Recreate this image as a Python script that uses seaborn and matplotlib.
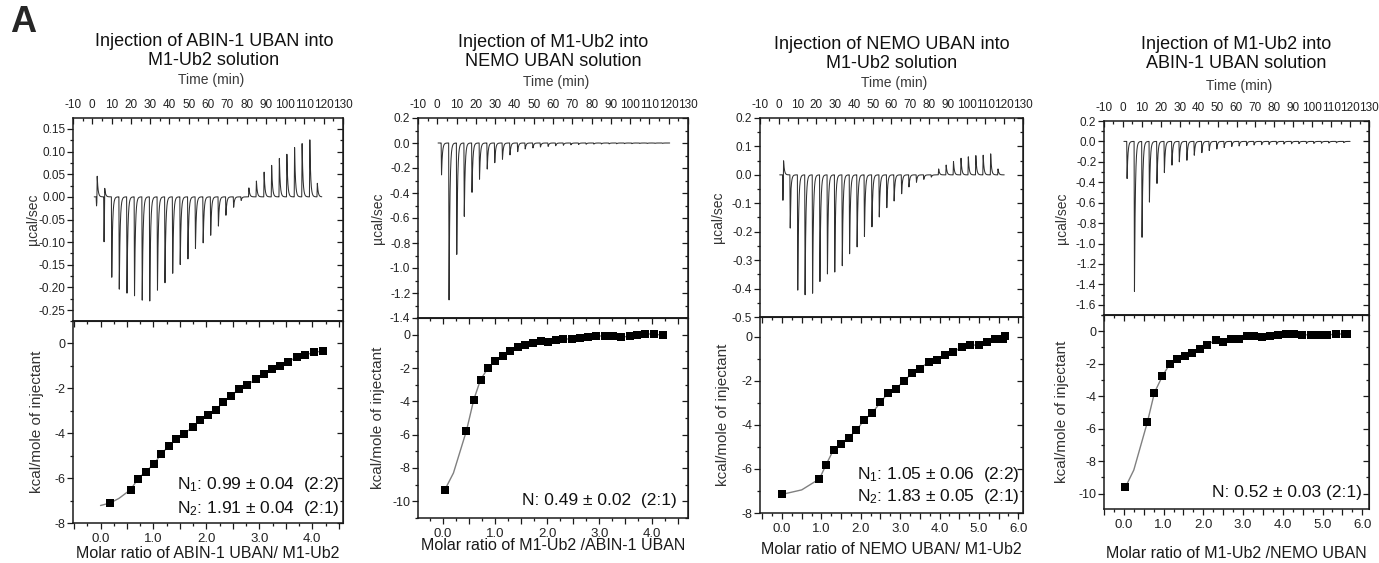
import numpy as np
import pandas as pd
import seaborn as sns
import matplotlib
matplotlib.use('Agg')
import matplotlib.pyplot as plt
from matplotlib.ticker import MultipleLocator, FuncFormatter

sns.set_style('ticks')
plt.rcParams['font.family'] = ['Liberation Sans', 'DejaVu Sans']
plt.rcParams['mathtext.fontset'] = 'custom'
plt.rcParams['mathtext.rm'] = 'Liberation Sans'
plt.rcParams['mathtext.it'] = 'Liberation Sans:italic'
plt.rcParams['axes.unicode_minus'] = False

# injection times (min), shared by all four runs
inj_time = [2.0, 5.9, 9.9, 13.8, 17.8, 21.7, 25.7, 29.6, 33.6, 37.5, 41.5, 45.4, 49.4, 53.3, 57.3,
            61.2, 65.2, 69.1, 73.1, 77.0, 81.0, 84.9, 88.9, 92.8, 96.8, 100.7, 104.7, 108.6, 112.6, 116.5]

# raw heat peaks (ucal/sec)
p1_peak = [-0.02, -0.10, -0.18, -0.204, -0.214, -0.221, -0.228, -0.232, -0.209, -0.19, -0.17, -0.151,
           -0.137, -0.115, -0.103, -0.085, -0.065, -0.041, -0.023, -0.008, 0.02, 0.035, 0.055, 0.07,
           0.085, 0.095, 0.11, 0.118, 0.127, 0.03]
p1_over = [0.055, 0.065, 0.005]
p2_peak = [-0.256, -1.27, -0.896, -0.59, -0.40, -0.29, -0.21, -0.16, -0.13, -0.096, -0.07, -0.048,
           -0.04, -0.032, -0.027, -0.022, -0.018, -0.015, -0.012, -0.01, -0.009, -0.008, -0.007,
           -0.006, -0.005, -0.005, -0.004, -0.004, -0.003, -0.003]
p2_over = []
p3_peak = [-0.09, -0.19, -0.406, -0.426, -0.42, -0.377, -0.353, -0.342, -0.322, -0.281, -0.254,
           -0.219, -0.184, -0.149, -0.117, -0.092, -0.067, -0.043, -0.026, -0.016, -0.008, 0.021,
           0.035, 0.047, 0.059, 0.064, 0.068, 0.07, 0.074, 0.021]
p3_over = [0.091, 0.028]
p4_peak = [-0.366, -1.49, -0.94, -0.6, -0.415, -0.307, -0.235, -0.2, -0.186, -0.137, -0.11, -0.09,
           -0.075, -0.06, -0.05, -0.045, -0.04, -0.035, -0.032, -0.03, -0.028, -0.026, -0.024,
           -0.022, -0.02, -0.02, -0.018, -0.016, -0.014, -0.012]
p4_over = []

# integrated heats (kcal/mole of injectant) vs molar ratio
r1 = [0.18, 0.57, 0.71, 0.85, 1.01, 1.15, 1.29, 1.43, 1.58, 1.74, 1.87, 2.03, 2.18, 2.31, 2.46,
      2.62, 2.77, 2.93, 3.09, 3.24, 3.39, 3.54, 3.71, 3.87, 4.03, 4.21]
h1 = [-7.11, -6.51, -6.02, -5.72, -5.37, -4.91, -4.58, -4.25, -4.03, -3.72, -3.42, -3.2, -2.97,
      -2.62, -2.35, -2.02, -1.87, -1.58, -1.38, -1.16, -1.01, -0.83, -0.59, -0.52, -0.39, -0.34]
r2 = [0.03, 0.45, 0.59, 0.72, 0.86, 1.0, 1.15, 1.29, 1.44, 1.58, 1.73, 1.88, 2.02, 2.17, 2.31, 2.47,
      2.63, 2.79, 2.94, 3.1, 3.26, 3.42, 3.58, 3.72, 3.88, 4.04, 4.22]
h2 = [-9.34, -5.76, -3.9, -2.7, -2.02, -1.56, -1.26, -1.0, -0.74, -0.6, -0.5, -0.36, -0.44, -0.3,
      -0.26, -0.26, -0.22, -0.16, -0.1, -0.06, -0.06, -0.14, -0.1, -0.04, 0.04, 0.04, -0.04]
r3 = [0.01, 0.95, 1.12, 1.31, 1.5, 1.69, 1.89, 2.08, 2.29, 2.5, 2.69, 2.89, 3.09, 3.31, 3.5, 3.72,
      3.93, 4.14, 4.35, 4.57, 4.78, 4.99, 5.2, 5.41, 5.62, 5.67]
h3 = [-7.15, -6.45, -5.8, -5.12, -4.85, -4.58, -4.24, -3.79, -3.45, -2.98, -2.55, -2.35, -2.02,
      -1.64, -1.44, -1.15, -1.06, -0.83, -0.7, -0.45, -0.39, -0.36, -0.24, -0.12, -0.08, 0.03]
r4 = [0.04, 0.59, 0.77, 0.97, 1.15, 1.34, 1.53, 1.72, 1.91, 2.1, 2.31, 2.5, 2.69, 2.9, 3.09, 3.27,
      3.48, 3.68, 3.88, 4.09, 4.28, 4.49, 4.7, 4.91, 5.12, 5.33, 5.56, 5.61]
h4 = [-9.6, -5.62, -3.78, -2.76, -2.04, -1.68, -1.53, -1.33, -1.12, -0.82, -0.55, -0.65, -0.45,
      -0.45, -0.31, -0.31, -0.35, -0.27, -0.22, -0.18, -0.2, -0.22, -0.22, -0.22, -0.25, -0.16,
      -0.18, -0.16]

# extra points where the fitted curve runs beyond/between the squares
fit1_extra = ([0.0, 0.35], [-7.22, -6.9])
fit2_extra = ([0.2], [-8.3])
fit3_extra = ([0.5], [-6.95])
fit4_extra = ([0.25], [-8.55])

titles = ['Injection of ABIN-1 UBAN into\nM1-Ub2 solution',
          'Injection of M1-Ub2 into\nNEMO UBAN solution',
          'Injection of NEMO UBAN into\nM1-Ub2 solution',
          'Injection of M1-Ub2 into\nABIN-1 UBAN solution']
xlabels = ['Molar ratio of ABIN-1 UBAN/ M1-Ub2',
           'Molar ratio of M1-Ub2 /ABIN-1 UBAN',
           'Molar ratio of NEMO UBAN/ M1-Ub2',
           'Molar ratio of M1-Ub2 /NEMO UBAN']
notes = [['N$_1$: 0.99 ± 0.04  (2:2)', 'N$_2$: 1.91 ± 0.04  (2:1)'],
         ['N: 0.49 ± 0.02  (2:1)'],
         ['N$_1$: 1.05 ± 0.06  (2:2)', 'N$_2$: 1.83 ± 0.05  (2:1)'],
         ['N: 0.52 ± 0.03 (2:1)']]

W, H = 1379, 563
fig = plt.figure(figsize=(W / 100, H / 100), dpi=100)


def box(l, r, t, b):
    return [l / W, 1 - b / H, (r - l) / W, (b - t) / H]


def pulse(dt):
    # sharp injection response with quick return to baseline
    out = np.where(dt < 0, 0.0, np.exp(-np.clip(dt - 0.2, 0, None) / 0.45))
    return np.where((dt >= 0) & (dt < 0.2), dt / 0.2, out)


def trace(peaks, over, t0, t1):
    t = np.linspace(t0, t1, 12000)
    q = np.zeros_like(t)
    ov = list(over) + [0.0] * (len(peaks) - len(over))
    for ti, p, o in zip(inj_time, peaks, ov):
        q += p * pulse(t - ti)
        q += o * pulse(t - ti - 0.35)
    return pd.DataFrame({'t': t, 'q': q})


def frame(ax):
    for s in ax.spines.values():
        s.set_linewidth(1.1)
        s.set_color('#1a1a1a')
        s.set_visible(True)
    ax.tick_params(which='both', color='#1a1a1a', width=0.9, labelcolor='#222222')
    ax.tick_params(which='major', length=4)
    ax.tick_params(which='minor', length=2.3)


panels = [
    dict(lr=(73, 343), tmb=(118, 321, 523), top_ylim=(-0.274, 0.174), top_step=(0.05, 0.025),
         top_fmt='%.2f', peaks=p1_peak, over=p1_over, span=(1.0, 119.0),
         xlim=(-0.52, 4.58), ylim=(-8, 1.0), r=r1, h=h1, fit=fit1_extra,
         ylab_x=(-0.148, -0.133), xlab_y=553, note_y=[485, 508], note_x=340, time_y=80, title_y=51),
    dict(lr=(418, 688), tmb=(118, 318, 518), top_ylim=(-1.4, 0.2), top_step=(0.2, 0.1),
         top_fmt='%.1f', peaks=p2_peak, over=p2_over, span=(0.4, 120.5),
         xlim=(-0.48, 4.7), ylim=(-11, 1.0), r=r2, h=h2, fit=fit2_extra,
         ylab_x=(-0.148, -0.148), xlab_y=546, note_y=[500], note_x=677, time_y=82, title_y=52),
    dict(lr=(760, 1023), tmb=(118, 317, 513), top_ylim=(-0.5, 0.2), top_step=(0.1, 0.05),
         top_fmt='%.1f', peaks=p3_peak, over=p3_over, span=(0.5, 120.0),
         xlim=(-0.56, 6.12), ylim=(-8, 0.9), r=r3, h=h3, fit=fit3_extra,
         ylab_x=(-0.16, -0.14), xlab_y=550, note_y=[474, 497], note_x=1020, time_y=83, title_y=54),
    dict(lr=(1104, 1369), tmb=(121, 315, 509), top_ylim=(-1.7, 0.2), top_step=(0.2, 0.1),
         top_fmt='%.1f', peaks=p4_peak, over=p4_over, span=(0.5, 120.0),
         xlim=(-0.5, 6.17), ylim=(-10.95, 1.0), r=r4, h=h4, fit=fit4_extra,
         ylab_x=(-0.158, -0.158), xlab_y=553, note_y=[493], note_x=1362, time_y=86, title_y=54),
]

for i, p in enumerate(panels):
    l, r = p['lr']
    t, m, b = p['tmb']

    # raw thermogram
    ax1 = fig.add_axes(box(l, r, t, m))
    df = trace(p['peaks'], p['over'], *p['span'])
    sns.lineplot(data=df, x='t', y='q', ax=ax1, estimator=None, sort=False,
                 color='#303030', lw=0.75)
    ax1.set_xlim(-10, 130)
    ax1.set_ylim(*p['top_ylim'])
    frame(ax1)
    ax1.xaxis.set_major_locator(MultipleLocator(10))
    ax1.xaxis.set_minor_locator(MultipleLocator(5))
    ax1.xaxis.tick_top()
    ax1.tick_params(axis='x', which='both', direction='in', top=True, bottom=False,
                    labeltop=True, labelbottom=False, labelsize=8.5, pad=5)
    ax1.yaxis.set_major_locator(MultipleLocator(p['top_step'][0]))
    ax1.yaxis.set_minor_locator(MultipleLocator(p['top_step'][1]))
    ax1.yaxis.set_major_formatter(FuncFormatter(lambda v, pos, f=p['top_fmt']: f % v))
    ax1.tick_params(axis='y', which='both', direction='out', left=True, right=False, labelsize=8.5, pad=1.5)
    sec = ax1.secondary_yaxis('right')
    sec.yaxis.set_major_locator(MultipleLocator(p['top_step'][0]))
    sec.yaxis.set_minor_locator(MultipleLocator(p['top_step'][1]))
    sec.tick_params(which='both', direction='in', labelright=False, color='#1a1a1a', width=0.9)
    sec.tick_params(which='major', length=4)
    sec.tick_params(which='minor', length=2.3)
    ax1.set_xlabel('')
    ax1.set_ylabel('µcal/sec', fontsize=10, color='#333333')
    ax1.yaxis.set_label_coords(p['ylab_x'][0], 0.5)
    ax1.yaxis.label.set_va('center')

    # integrated heats
    ax2 = fig.add_axes(box(l, r, m, b))
    fx = sorted(list(p['r']) + p['fit'][0])
    fy = [y for _, y in sorted(zip(list(p['r']) + p['fit'][0], list(p['h']) + p['fit'][1]))]
    sns.lineplot(x=fx, y=fy, ax=ax2, estimator=None, sort=False, color='#808080', lw=1.0, zorder=1)
    sns.scatterplot(x=p['r'], y=p['h'], ax=ax2, marker='s', s=32, color='black',
                    edgecolor='black', linewidth=0, zorder=3)
    ax2.set_xlim(*p['xlim'])
    ax2.set_ylim(*p['ylim'])
    frame(ax2)
    ax2.xaxis.set_major_locator(MultipleLocator(0.5))
    ax2.xaxis.set_minor_locator(MultipleLocator(0.25))
    ax2.xaxis.set_major_formatter(FuncFormatter(lambda v, pos: '%.1f' % v if abs(v - round(v)) < 1e-6 else ''))
    ax2.yaxis.set_major_locator(MultipleLocator(2))
    ax2.yaxis.set_minor_locator(MultipleLocator(1))
    ax2.yaxis.set_major_formatter(FuncFormatter(lambda v, pos: '%d' % round(v)))
    ax2.tick_params(axis='x', which='both', direction='out', bottom=True, top=False, labelsize=9.5, pad=3)
    ax2.tick_params(axis='y', which='both', direction='out', left=True, right=False, labelsize=9, pad=1.5)
    sx = ax2.secondary_xaxis('top')
    sx.xaxis.set_major_locator(MultipleLocator(0.5))
    sx.xaxis.set_minor_locator(MultipleLocator(0.25))
    sx.tick_params(which='both', direction='in', labeltop=False, color='#1a1a1a', width=0.9)
    sx.tick_params(which='major', length=4)
    sx.tick_params(which='minor', length=2.3)
    sy = ax2.secondary_yaxis('right')
    sy.yaxis.set_major_locator(MultipleLocator(2))
    sy.yaxis.set_minor_locator(MultipleLocator(1))
    sy.tick_params(which='both', direction='in', labelright=False, color='#1a1a1a', width=0.9)
    sy.tick_params(which='major', length=4)
    sy.tick_params(which='minor', length=2.3)
    ax2.set_ylabel('kcal/mole of injectant', fontsize=11, color='#333333')
    ax2.yaxis.set_label_coords(p['ylab_x'][1], 0.5)
    ax2.yaxis.label.set_va('center')
    ax2.set_xlabel(xlabels[i], fontsize=11.5, color='#1a1a1a')
    ax2.xaxis.set_label_coords(0.5, -(p['xlab_y'] - b) / (b - m))
    ax2.xaxis.label.set_va('center')

    for k, txt in enumerate(notes[i]):
        fig.text(p['note_x'] / W, 1 - p['note_y'][k] / H, txt, ha='right', va='center',
                 fontsize=12.5, color='#111111')

    cx = (l + r) / 2 / W
    fig.text(cx + (6 / W if i == 0 else 0), 1 - p['title_y'] / H, titles[i], ha='center', va='center',
             fontsize=13, linespacing=1.2, color='#111111')
    fig.text(cx + 3 / W, 1 - p['time_y'] / H, 'Time (min)', ha='center', va='center',
             fontsize=10, color='#3a3a3a')

fig.text(10 / W, 1 - 23 / H, 'A', fontsize=26, fontweight='bold', va='center', ha='left')

fig.savefig('out.png', dpi=100)
